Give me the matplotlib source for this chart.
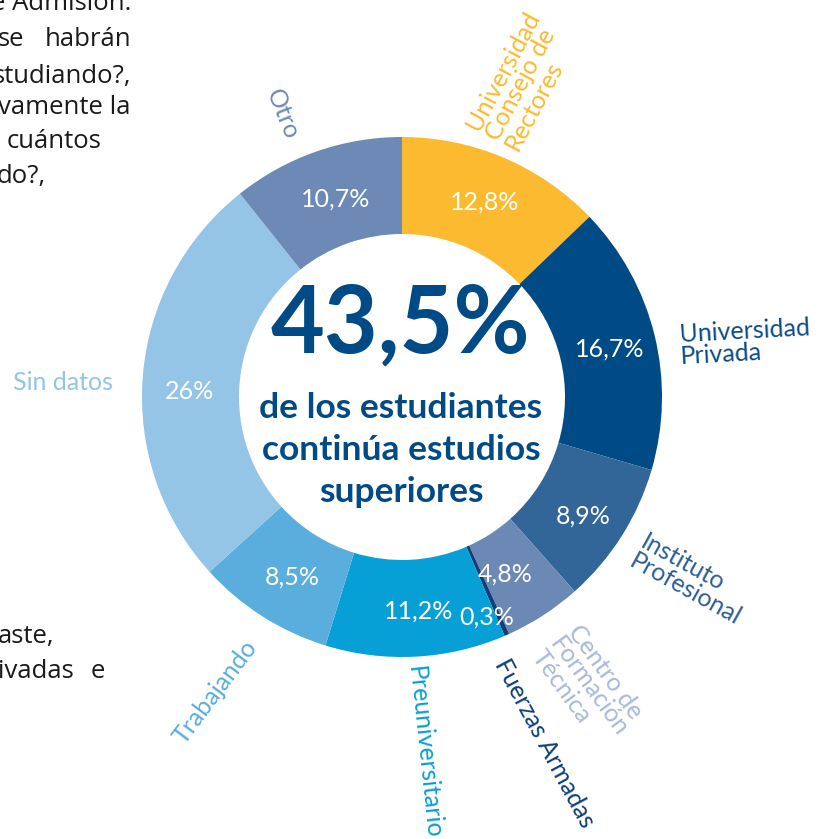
import numpy as np
import matplotlib.pyplot as plt

plt.rcParams['font.family'] = ['Lato', 'DejaVu Sans']

# data, clockwise from the top
categories = ['Universidad Consejo de Rectores', 'Universidad Privada',
              'Instituto Profesional', 'Centro de Formación Técnica',
              'Fuerzas Armadas', 'Preuniversitario', 'Trabajando',
              'Sin datos', 'Otro']
values = [12.8, 16.7, 8.9, 4.8, 0.3, 11.2, 8.5, 26.0, 10.7]
pct_labels = ['12,8%', '16,7%', '8,9%', '4,8%', '0,3%', '11,2%', '8,5%', '26%', '10,7%']
colors = ['#FBBA30', '#004A86', '#326598', '#6C88B4', '#0D3F78',
          '#06A0D6', '#5AAEDD', '#94C4E6', '#6C8AB5']
label_colors = ['#FBBA30', '#0B4A86', '#2E5F93', '#A9B9D9', '#0D3F78',
                '#0A9ED6', '#5AAEDC', '#92C5E6', '#6C8AB5']
cat_text = ['Universidad\nConsejo de\nRectores', 'Universidad\nPrivada',
            'Instituto\nProfesional', 'Centro de\nFormación\nTécnica',
            'Fuerzas Armadas', 'Preuniversitario', 'Trabajando',
            'Sin datos', 'Otro']
big_number = '43,5%'
sub_lines = ['de los estudiantes', 'continúa estudios', 'superiores']

W, H = 825, 839
def fy(y):
    return H - y

fig = plt.figure(figsize=(W / 100, H / 100), dpi=100)
ax = fig.add_axes([0, 0, 1, 1])

cx, cy = 402, fy(397)
R, ring = 260, 97
wedges, _ = ax.pie(values, colors=colors, startangle=90, counterclock=False,
                   radius=R, center=(cx, cy), frame=True,
                   wedgeprops=dict(width=ring, linewidth=0))
ax.set_xlim(0, W)
ax.set_ylim(0, H)
ax.axis('off')

# percentage labels in the ring (small nudges in px, image direction)
rmid = R - ring / 2
nudge = [(0, 0), (2, 2), (2, 6), (-12, 0), (-12, 0), (5, 3), (4, 2), (-2, 11), (3, 2)]
for i, w in enumerate(wedges):
    ang = np.deg2rad((w.theta1 + w.theta2) / 2)
    r = rmid + (29 if i == 4 else 0)  # tiny slice: label sits below it
    dx, dy = nudge[i]
    ax.text(cx + r * np.cos(ang) + dx, cy + r * np.sin(ang) - dy, pct_labels[i],
            color='white', fontsize=18, ha='center', va='center')

# category labels outside
lab_pos = [(522, 81, 62), (745, 342, 3), (691, 580, -29), (589, 687, -54),
           (545, 743, -62), (424, 752, -84), (215, 692, 53), (63, 383, 0),
           (283, 114, -68)]
for i, (x, y, rot) in enumerate(lab_pos):
    ax.text(x, fy(y), cat_text[i], color=label_colors[i], fontsize=18,
            rotation=rot, rotation_mode='anchor', ha='center', va='center',
            multialignment='left', linespacing=0.95)

# centre text
ax.text(400, fy(352), big_number, color='#004A86', fontsize=67,
        fontweight='bold', ha='center', va='baseline')
for k, line in enumerate(sub_lines):
    ax.text(401, fy(418 + 42 * k), line, color='#004A86', fontsize=25.5,
            fontweight='bold', ha='center', va='baseline')

# cropped body text of the page
body = dict(color='#1a1a1a', fontsize=18.5, family=['Open Sans', 'DejaVu Sans'], va='center')
ax.text(131, fy(4), 'e Admisión.', ha='right', **body)
ax.text(-2, fy(40), 'se', ha='left', **body)
ax.text(131, fy(40), 'habrán', ha='right', **body)
ax.text(131, fy(76), 'studiando?,', ha='right', **body)
ax.text(131, fy(108), 'vamente la', ha='right', **body)
ax.text(7, fy(142), 'cuántos', ha='left', **body)
ax.text(-3, fy(177), 'do?,', ha='left', **body)
ax.text(-2, fy(636), 'aste,', ha='left', **body)
ax.text(-2, fy(672), 'ivadas', ha='left', **body)
ax.text(105, fy(672), 'e', ha='right', **body)

fig.savefig('out.png', dpi=100)
